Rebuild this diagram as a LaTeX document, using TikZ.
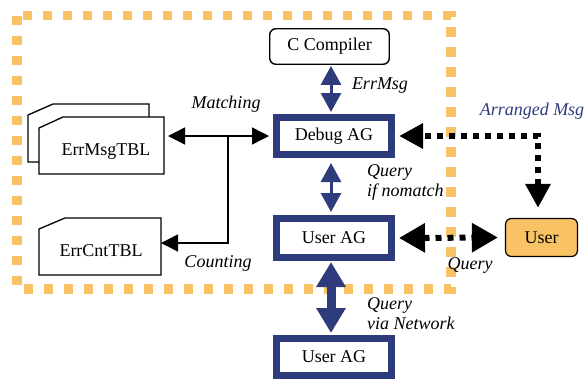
\documentclass[tikz,border=0pt]{standalone}
\usepackage{fontspec}
\setmainfont{Liberation Serif}
\usetikzlibrary{arrows.meta}
\definecolor{navy}{HTML}{2E3B7C}
\definecolor{gold}{HTML}{F9C264}
\tikzset{
  txt/.style={font=\fontsize{18}{20}\selectfont},
  lbl/.style={font=\fontsize{18}{20}\selectfont\itshape, inner sep=0pt},
  agbox/.style={txt, draw=navy, line width=7pt, minimum width=115pt, minimum height=37pt, fill=white, inner sep=0pt},
  ccbox/.style={txt, draw=black, line width=1.4pt, rounded corners=6pt, minimum width=119.5pt, minimum height=35.5pt, fill=white, inner sep=0pt},
  userbox/.style={txt, draw=black, line width=1.2pt, rounded corners=6pt, minimum width=72pt, minimum height=38pt, fill=gold, inner sep=0pt},
  tblshape/.style={draw=black, line width=1.3pt, fill=white},
  frame/.style={draw=gold, line width=9.5pt, dash pattern=on 9.5pt off 10.5pt},
  navyarr/.style={draw=navy, line width=3pt, arrows={Triangle[length=19pt,width=20pt]-Triangle[length=19pt,width=20pt]}},
  navybig/.style={draw=navy, line width=9pt, arrows={Triangle[length=25pt,width=28pt]-Triangle[length=25pt,width=28pt]}},
  dotarr/.style={draw=black, line width=6pt, dash pattern=on 6pt off 6pt, arrows={Triangle[length=24pt,width=24pt]-Triangle[length=24pt,width=24pt]}},
  dotarrbig/.style={draw=black, line width=6pt, dash pattern=on 6pt off 6pt, arrows={Triangle[length=26pt,width=28pt]-Triangle[length=26pt,width=28pt]}},
  blkarr/.style={draw=black, line width=1.5pt, arrows={Triangle[length=17pt,width=17pt]-Triangle[length=17pt,width=17pt]}},
  blkone/.style={draw=black, line width=1.5pt, arrows={-Triangle[length=17pt,width=17pt]}}
}
\begin{document}
\begin{tikzpicture}[x=1pt,y=-1pt]
\useasboundingbox (0,0) rectangle (587,381);

% dotted boundary
\draw[frame] (17,15.5) rectangle (451,289);

% tables
\draw[tblshape] (28,115) -- (53,104) -- (149,104) -- (149,162) -- (28,162) -- cycle;
\draw[tblshape] (39,128) -- (63,117) -- (164,117) -- (164,174) -- (39,174) -- cycle;
\draw[tblshape] (39,229) -- (65,218) -- (161,218) -- (161,275) -- (39,275) -- cycle;
\node[txt, inner sep=0pt] (errmsg) at (106,152) {ErrMsgTBL};
\node[txt, inner sep=0pt] (errcnt) at (101,251) {ErrCntTBL};
\coordinate (errmsgE) at (164,136);
\coordinate (errcntE) at (161,243);
\coordinate (junction) at (228,136);

% main nodes
\node[ccbox] (cc) at (329.5,46.5) {C Compiler};
\node[agbox] (debug) at (334,136) {Debug AG};
\node[agbox, minimum height=39pt] (uag) at (334,238) {User AG};
\node[agbox] (uag2) at (334,357) {User AG};
\node[userbox] (user) at (541.5,237.5) {User};

% connectors
\draw[blkarr, shorten <=4pt, shorten >=4pt] (errmsgE) -- (debug.west);
\draw[blkone] (junction) |- (errcntE);

\draw[navyarr, shorten <=1pt, shorten >=2pt] ([xshift=-3pt]debug.north |- cc.south) -- ([xshift=-3pt]debug.north);
\draw[navyarr, shorten <=5pt, shorten >=3pt] ([xshift=-3pt]debug.south) -- ([xshift=-3pt]uag.north);
\draw[navybig, shorten <=1pt, shorten >=2pt] ([xshift=-3pt]uag.south) -- ([xshift=-3pt]uag2.north);

\draw[dotarr, shorten <=10pt, shorten >=4pt] ([xshift=-3.5pt]user.north) |- (debug.east);
\draw[dotarrbig, shorten <=4pt, shorten >=7pt] (uag.east) -- (user.west);

% labels
\node[lbl] (lmatch) at (226,104) {Matching};
\node[lbl] (lcount) at (218,263) {Counting};
\node[lbl] (lerr) at (380,86) {ErrMsg};
\node[lbl, text=navy] (larr) at (532,111) {Arranged Msg};
\node[lbl, anchor=west, align=left] (lq1) at (367,182) {Query\\if nomatch};
\node[lbl, anchor=west, align=left] (lq2) at (367,314) {Query\\via Network};
\node[lbl] (lq3) at (470,265) {Query};
\end{tikzpicture}
\end{document}
